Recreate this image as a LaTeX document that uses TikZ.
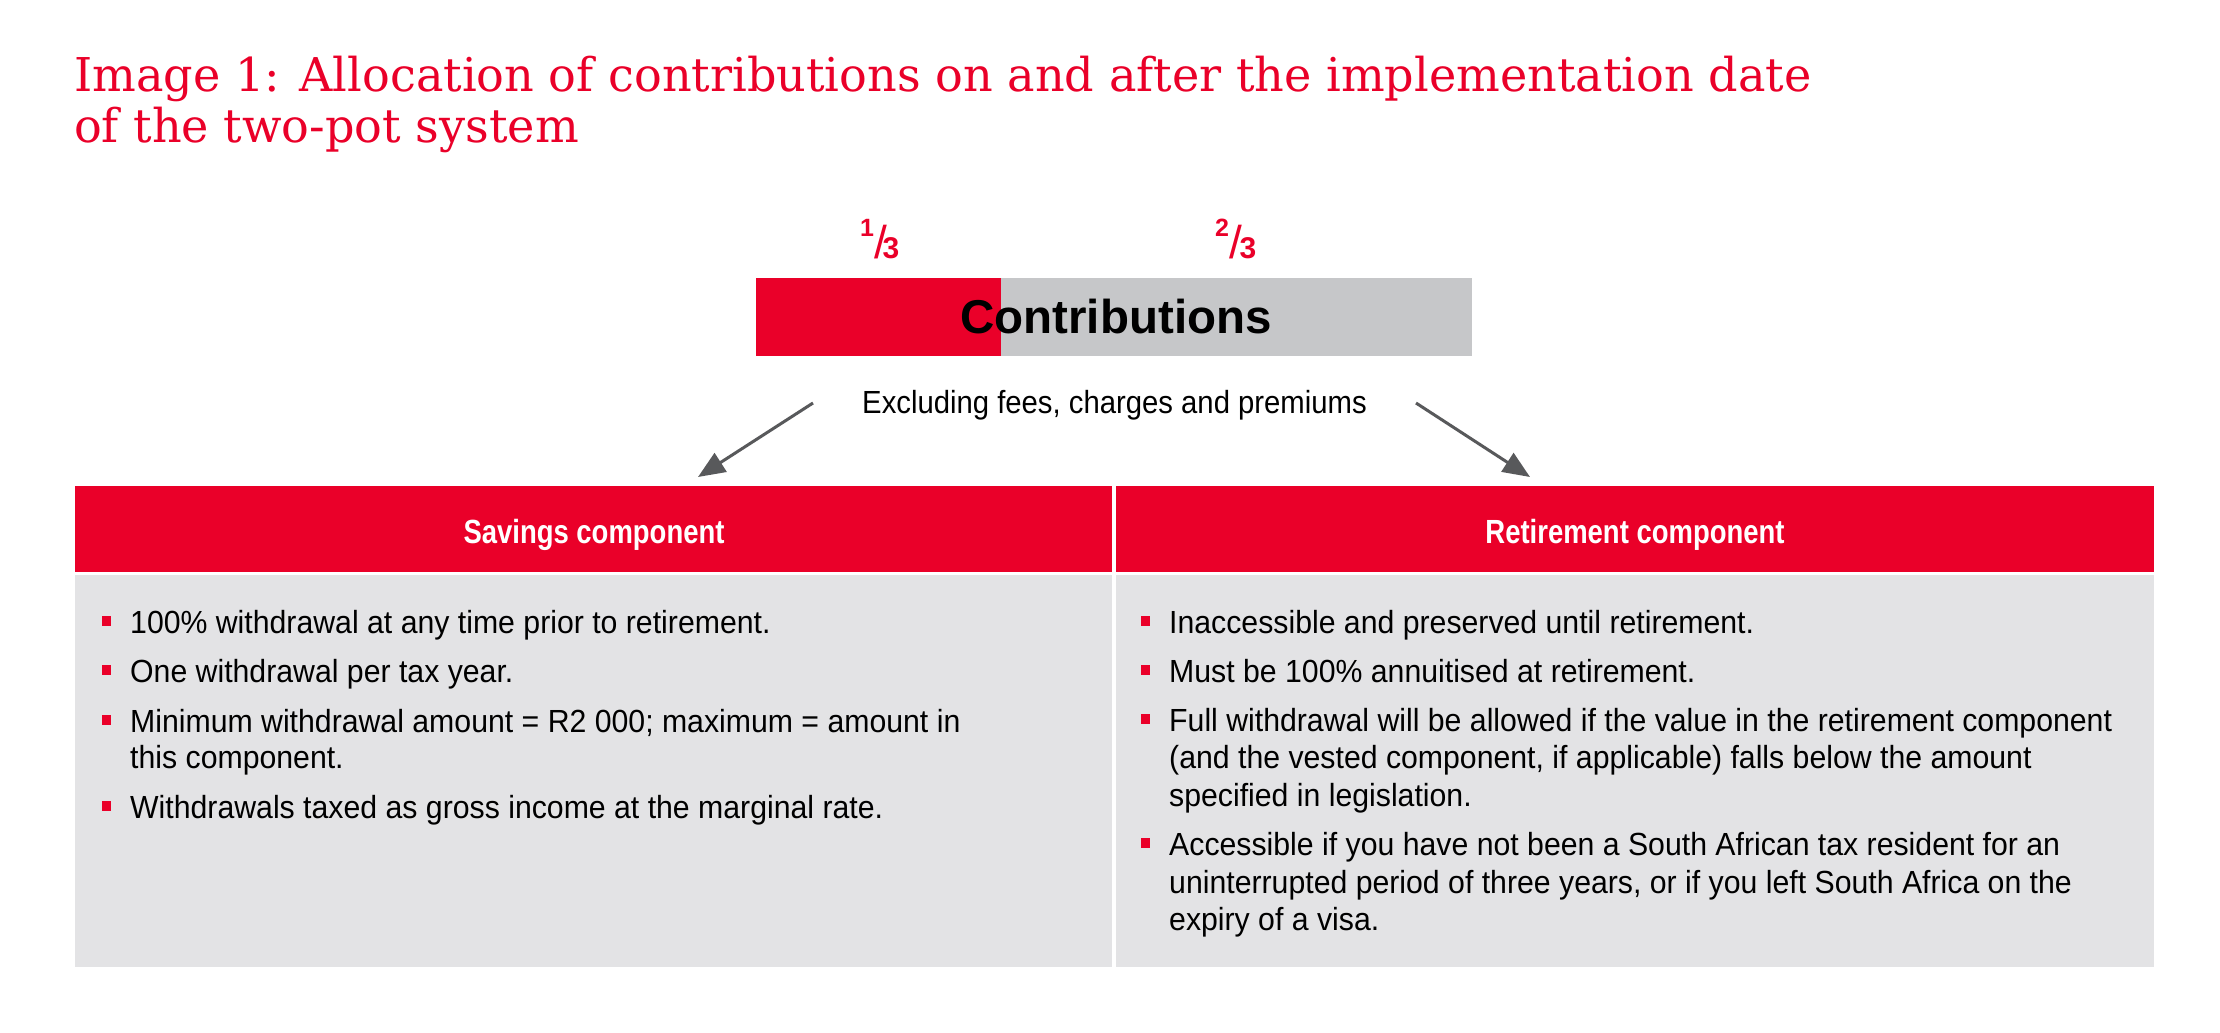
\documentclass[tikz,border=0pt]{standalone}
\usepackage{fontspec}
\setmainfont{Liberation Sans}
\newfontfamily\titlefont[FakeStretch=0.99]{DejaVu Serif}
\newfontfamily\bodyfont[FakeStretch=0.945]{Liberation Sans}
\newfontfamily\exclfont[FakeStretch=0.915]{Liberation Sans}
\newfontfamily\headfont[FakeStretch=0.82]{Liberation Sans}
\usetikzlibrary{arrows.meta}
\definecolor{pwcred}{RGB}{234,0,41}
\definecolor{bargray}{RGB}{198,199,201}
\definecolor{bodygray}{RGB}{227,227,229}
\definecolor{arrgray}{RGB}{88,89,91}
\begin{document}
\begin{tikzpicture}[x=1pt,y=-1pt,
  titletxt/.style={font=\titlefont\fontsize{46.6}{50}\selectfont, text=pwcred, anchor=base west, inner sep=0},
  bodytxt/.style={font=\bodyfont\fontsize{32}{37}\selectfont, anchor=base west, inner sep=0},
  hdrtxt/.style={font=\headfont\bfseries\fontsize{33.5}{36}\selectfont, text=white, anchor=base, inner sep=0},
  bulletsq/.style={fill=pwcred},
  panel/.style={inner sep=0, outer sep=0, anchor=north west, draw=none},
  conn/.style={draw=arrgray, line width=3pt, -{Triangle[length=27pt,width=22pt]}},
  fnum/.style={font=\bfseries\fontsize{25}{25}\selectfont, text=pwcred, anchor=base, inner sep=0},
  fden/.style={font=\bfseries\fontsize{30}{30}\selectfont, text=pwcred, anchor=base, inner sep=0},
  fsl/.style={font=\fontsize{46}{46}\selectfont, text=pwcred, anchor=base, inner sep=0},
]
\useasboundingbox[fill=white] (0,0) rectangle (2220,1033);

% title
\node[titletxt] (title1) at (74,92) {Image 1: Allocation of contributions on and after the implementation date};
\node[titletxt] (title2) at (74,142) {of the two-pot system};

% fractions
\node[fnum] (f1n) at (867,236) {1};
\node[fsl]  (f1s) at (880.5,258) {/};
\node[fden] (f1d) at (891,258) {3};
\node[fnum] (f2n) at (1222,236) {2};
\node[fsl]  (f2s) at (1236,258) {/};
\node[fden] (f2d) at (1248,258) {3};

% contributions bar
\node[panel, fill=pwcred, minimum width=245pt, minimum height=78pt] (barred) at (756,278) {};
\node[panel, fill=bargray, minimum width=471pt, minimum height=78pt] (bargry) at (1001,278) {};
\node[font=\bfseries\fontsize{47.5}{50}\selectfont, anchor=base, inner sep=0] (contrib) at (1116,333) {Contributions};

\node[font=\exclfont\fontsize{32}{37}\selectfont, anchor=base, inner sep=0] (excl) at (1114.5,413) {Excluding fees, charges and premiums};

% arrows
\coordinate (la0) at (813,403);
\coordinate (la1) at (698,477);
\coordinate (ra0) at (1416,403);
\coordinate (ra1) at (1530,477);
\draw[conn] (la0) -- (la1);
\draw[conn] (ra0) -- (ra1);

% headers
\node[panel, fill=pwcred, minimum width=1037pt, minimum height=86pt] (savhdr) at (75,486) {};
\node[panel, fill=pwcred, minimum width=1038pt, minimum height=86pt] (rethdr) at (1116,486) {};
\node[hdrtxt] (savtxt) at (594,543) {Savings component};
\node[hdrtxt] (rettxt) at (1635,543) {Retirement component};

% bodies
\node[panel, fill=bodygray, minimum width=1037pt, minimum height=392pt] (savbody) at (75,575) {};
\node[panel, fill=bodygray, minimum width=1038pt, minimum height=392pt] (retbody) at (1116,575) {};

% left bullets
\foreach \b in {633,682,732,818} \fill[bulletsq] (102,\b-17) rectangle (111,\b-7);
\node[bodytxt] (l1) at (130,633) {100\% withdrawal at any time prior to retirement.};
\node[bodytxt] (l2) at (130,682) {One withdrawal per tax year.};
\node[bodytxt] (l3) at (130,732) {Minimum withdrawal amount = R2 000; maximum = amount in};
\node[bodytxt] (l3b) at (130,768) {this component.};
\node[bodytxt] (l4) at (130,818) {Withdrawals taxed as gross income at the marginal rate.};

% right bullets
\foreach \b in {633,682,731,855} \fill[bulletsq] (1141,\b-17) rectangle (1150,\b-7);
\node[bodytxt] (r1) at (1169,633) {Inaccessible and preserved until retirement.};
\node[bodytxt] (r2) at (1169,682) {Must be 100\% annuitised at retirement.};
\node[bodytxt] (r3) at (1169,731) {Full withdrawal will be allowed if the value in the retirement component};
\node[bodytxt] (r3b) at (1169,768) {(and the vested component, if applicable) falls below the amount};
\node[bodytxt] (r3c) at (1169,806) {specified in legislation.};
\node[bodytxt] (r4) at (1169,855) {Accessible if you have not been a South African tax resident for an};
\node[bodytxt] (r4b) at (1169,893) {uninterrupted period of three years, or if you left South Africa on the};
\node[bodytxt] (r4c) at (1169,930) {expiry of a visa.};
\end{tikzpicture}
\end{document}
